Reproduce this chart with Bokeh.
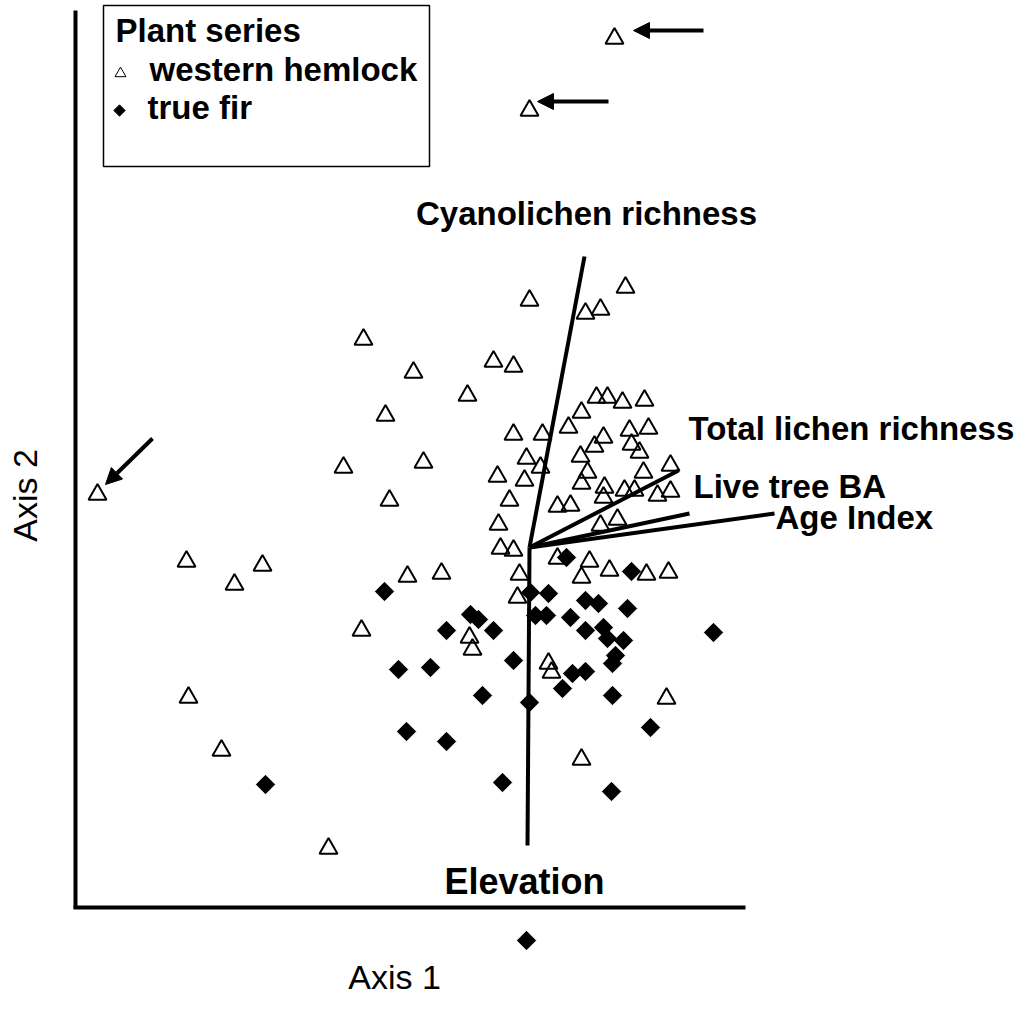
import math
from bokeh.plotting import figure
from bokeh.models import ColumnDataSource, Range1d, Arrow, NormalHead, Label
from bokeh.embed import file_html
from bokeh.resources import INLINE

# ---------------- data (ordination scores) ----------------
hemlock_axis1 = [539, 454, 22, 454, 288, 338, 392, 418, 438, 310, 438, 467, 550, 510, 525,
                 521, 532, 547, 569, 506, 493, 528, 554, 573, 519, 556, 451, 465, 505, 564,
                 422, 449, 512, 595, 506, 568, 434, 482, 495, 529, 528, 549, 559, 582, 595,
                 423, 525, 542, 425, 438, 482, 514, 506, 534, 571, 593, 444, 442, 268, 348,
                 314, 111, 187, 159, 286, 332, 366, 394, 397, 473, 476, 113, 146, 253, 591, 506]
hemlock_axis2 = [869, 797, 413, 607, 568, 535, 512, 546, 541, 492, 473, 473, 620, 594, 598,
                 510, 510, 505, 507, 495, 480, 470, 477, 479, 461, 463, 449, 440, 451, 455,
                 431, 427, 435, 442, 424, 435, 407, 401, 402, 420, 410, 417, 417, 412, 416,
                 383, 382, 388, 359, 357, 349, 346, 330, 337, 333, 335, 333, 310, 440, 445,
                 407, 346, 342, 323, 277, 331, 334, 270, 258, 244, 235, 210, 157, 59, 209, 148]

fir_axis1 = [309, 491, 556, 455, 473, 510, 523, 552, 395, 403, 371, 418, 460, 471, 495,
             510, 528, 532, 548, 540, 537, 638, 323, 355, 438, 407, 454, 497, 510, 487,
             537, 331, 371, 575, 190, 427, 536, 451]
fir_axis2 = [316, 350, 336, 315, 314, 307, 304, 299, 293, 288, 277, 277, 292, 292, 290,
             277, 280, 269, 267, 252, 244, 275, 238, 240, 247, 212, 205, 234, 236, 219,
             212, 176, 166, 180, 123, 125, 116, -33]

vector_names = ["Cyanolichen richness", "Total lichen richness", "Live tree BA", "Age Index", "Elevation"]
vector_origin_axis1 = 454
vector_origin_axis2 = 360
vector_axis1 = [509, 603, 614, 699, 452]
vector_axis2 = [651, 437, 394, 394, 62]

# outlying plots marked with arrows (tail -> tip)
flag_tail_axis1 = [628, 533, 77]
flag_tail_axis2 = [877, 806, 469]
flag_tip_axis1 = [558, 462, 30]
flag_tip_axis2 = [877, 806, 423]

legend_title = "Plant series"
series_names = ["western hemlock", "true fir"]
axis_titles = ["Axis 1", "Axis 2"]

FONT = "Liberation Sans"

p = figure(width=1024, height=1019,
           x_range=Range1d(-75, 949), y_range=Range1d(-112, 907),
           x_axis_type=None, y_axis_type=None,
           output_backend="svg", toolbar_location=None, min_border=0)
p.grid.visible = False
p.outline_line_color = None
p.background_fill_color = "white"
p.border_fill_color = "white"

# axis lines (L shape)
p.segment(x0=[0, -2], y0=[-1, 0], x1=[0, 670], y1=[897, 0],
          line_color="black", line_width=4)

# points
src_h = ColumnDataSource(dict(x=hemlock_axis1, y=hemlock_axis2))
src_f = ColumnDataSource(dict(x=fir_axis1, y=fir_axis2))
p.scatter("x", "y", source=src_h, marker="triangle", size=18,
          fill_color=None, line_color="black", line_width=2)
p.scatter("x", "y", source=src_f, marker="square", angle=math.pi / 4, size=13,
          fill_color="black", line_color="black", line_width=1)

# biplot vectors
n = len(vector_names)
src_v = ColumnDataSource(dict(x0=[vector_origin_axis1] * n, y0=[vector_origin_axis2] * n,
                              x1=vector_axis1, y1=vector_axis2, name=vector_names))
p.segment("x0", "y0", "x1", "y1", source=src_v, line_color="black", line_width=4)

# arrows
for xs, ys, xe, ye in zip(flag_tail_axis1, flag_tail_axis2, flag_tip_axis1, flag_tip_axis2):
    p.add_layout(Arrow(end=NormalHead(size=16, fill_color="black", line_color="black", line_width=1),
                       x_start=xs, y_start=ys, x_end=xe, y_end=ye,
                       line_color="black", line_width=4))

# vector labels
label_specs = [
    (vector_names[0], 511, 694, "center", "33px"),
    (vector_names[1], 613, 479, "left", "33px"),
    (vector_names[2], 618, 421, "left", "33px"),
    (vector_names[3], 700, 390, "left", "33px"),
    (vector_names[4], 449, 26, "center", "36px"),
]
for txt, lx, ly, al, fs in label_specs:
    p.add_layout(Label(x=lx, y=ly, text=txt, text_font=FONT, text_font_style="bold",
                       text_font_size=fs, text_align=al, text_baseline="alphabetic",
                       text_color="black"))

# axis titles
p.add_layout(Label(x=319, y=-69, text=axis_titles[0], text_font=FONT, text_font_size="34px",
                   text_align="center", text_baseline="alphabetic", text_color="black"))
p.add_layout(Label(x=-51, y=412, text=axis_titles[1], text_font=FONT, text_font_size="34px",
                   text_align="center", text_baseline="alphabetic", angle=math.pi / 2,
                   text_color="black"))

# legend box (manual)
p.quad(left=[28], right=[354], bottom=[741], top=[902], fill_color=None,
       line_color="black", line_width=1.5)
p.add_layout(Label(x=40, y=877, text=legend_title, text_font=FONT, text_font_style="bold",
                   text_font_size="33px", text_baseline="alphabetic", text_color="black"))
p.add_layout(Label(x=74, y=838, text=series_names[0], text_font=FONT, text_font_style="bold",
                   text_font_size="33px", text_baseline="alphabetic", text_color="black"))
p.add_layout(Label(x=72, y=800, text=series_names[1], text_font=FONT, text_font_style="bold",
                   text_font_size="33px", text_baseline="alphabetic", text_color="black"))
p.scatter([45], [834], marker="triangle", size=11, fill_color=None, line_color="black", line_width=1)
p.scatter([44], [797], marker="square", angle=math.pi / 4, size=8, fill_color="black", line_color="black")

open("out.html", "w").write(file_html(p, INLINE))
